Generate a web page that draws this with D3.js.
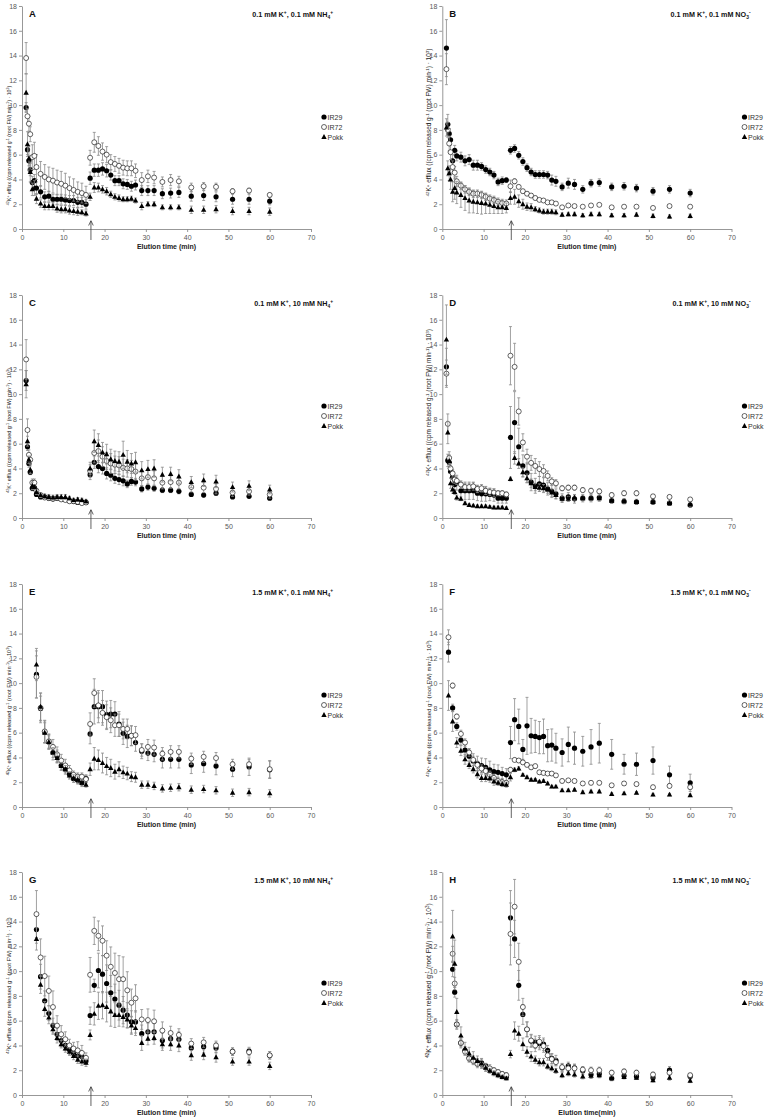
<!DOCTYPE html>
<html><head><meta charset="utf-8">
<script src="https://cdn.jsdelivr.net/npm/d3@7"></script>
<style>html,body{margin:0;padding:0;background:#fff;}svg{display:block;font-family:"Liberation Sans",Arial,sans-serif;}</style>
</head><body>
<svg id="chart" width="765" height="1118"></svg>
<script>
// ---------- time points (min) ----------
const tEarlyAD = [1,1.33,1.67,2,2.5,3,3.5,4.5,5.5,6.5,7.5,8.5,9.5,10.5,11.5,12.5,13.5,14.5,15.5];
const tEarlyEG = [3.5,4.5,5.5,6.5,7.5,8.5,9.5,10.5,11.5,12.5,13.5,14.5,15.5];
const tEarlyF  = [1.5,2.5,3.5,4.5,5.5,6.5,7.5,8.5,9.5,10.5,11.5,12.5,13.5,14.5,15.5];
const tEarlyH  = [2.5,3,3.5,4.5,5.5,6.5,7.5,8.5,9.5,10.5,11.5,12.5,13.5,14.5,15.5];
const tLate    = [16.5,17.5,18.5,19.5,20.5,21.5,22.5,23.5,24.5,25.5,26.5,27.5,29,30.5,32,34,36,38,41,44,47,51,55,60];
const arrowTime = 16.7;

const seriesNames = ["IR29","IR72","Pokk"];
const xTicks = [0,10,20,30,40,50,60,70];
const yTicks = [0,2,4,6,8,10,12,14,16,18];

// ---------- Panel A ----------
const A_IR29  = [9.8,6.4,5.5,4.8,3.75,3.9,3.3,3.0,2.6,2.65,2.4,2.4,2.4,2.35,2.3,2.3,2.15,2.15,2.0, 4.1,4.75,4.75,4.85,4.7,4.35,3.9,3.9,3.65,3.6,3.45,3.55,3.1,3.1,3.1,2.85,2.9,2.95,2.65,2.7,2.6,2.4,2.4,2.25];
const A_IR29e = [0.4,0.4,0.4,0.5,0.5,0.5,0.5,0.5,0.4,0.4,0.4,0.4,0.4,0.4,0.4,0.4,0.4,0.4,0.4, 0.5,0.5,0.5,0.5,0.5,0.4,0.4,0.4,0.4,0.4,0.4,0.4,0.4,0.4,0.4,0.4,0.4,0.4,0.4,0.4,0.4,0.4,0.4,0.3];
const A_IR72  = [13.8,9.1,8.5,7.65,5.8,5.9,5.0,4.45,4.2,4.0,3.9,3.75,3.65,3.5,3.3,3.15,3.0,2.9,2.75, 5.75,7.0,6.7,6.25,6.0,5.4,5.25,5.1,4.95,4.9,4.9,4.7,3.95,4.25,4.15,3.8,3.95,3.85,3.35,3.45,3.4,3.05,3.1,2.75];
const A_IR72e = [1.25,0.6,0.6,0.6,1.0,1.1,1.0,1.0,1.0,1.0,1.0,1.0,1.0,1.0,0.9,0.9,0.8,0.8,0.7, 0.6,0.8,0.75,0.7,0.65,0.6,0.6,0.6,0.6,0.6,0.6,0.55,0.6,0.5,0.5,0.4,0.45,0.4,0.35,0.3,0.3,0.2,0.2,0.15];
const A_Pokk  = [11.0,6.85,5.7,4.6,3.2,3.3,2.45,2.05,1.85,1.85,1.85,1.65,1.6,1.6,1.5,1.45,1.4,1.35,1.25, 2.6,3.35,3.35,3.2,3.05,2.8,2.6,2.5,2.4,2.4,2.45,2.3,1.85,2.0,2.0,1.75,1.75,1.75,1.55,1.55,1.6,1.45,1.45,1.4];
const A_Pokke = [1.5,1.0,1.0,0.8,0.5,0.6,0.4,0.3,0.3,0.3,0.3,0.3,0.3,0.3,0.3,0.3,0.3,0.2,0.2, 0.3,0.4,0.35,0.3,0.3,0.25,0.25,0.25,0.2,0.2,0.2,0.2,0.3,0.2,0.2,0.2,0.2,0.2,0.3,0.3,0.3,0.3,0.3,0.3];

// ---------- Panel B ----------
const B_IR29  = [14.6,8.45,7.7,7.2,5.5,6.35,5.9,5.8,5.5,5.6,5.15,5.15,5.05,4.8,4.6,4.35,3.8,3.9,3.95, 6.35,6.5,5.95,5.45,4.95,4.6,4.4,4.4,4.4,4.35,3.95,3.85,3.4,3.7,3.6,3.2,3.7,3.75,3.4,3.45,3.3,3.05,3.2,2.9];
const B_IR29e = [2.3,0.8,0.4,0.4,0.5,0.4,0.4,0.4,0.4,0.4,0.4,0.4,0.3,0.3,0.3,0.3,0.3,0.3,0.2, 0.3,0.3,0.3,0.3,0.3,0.3,0.3,0.3,0.3,0.3,0.4,0.4,0.3,0.4,0.4,0.3,0.3,0.3,0.3,0.3,0.3,0.3,0.3,0.3];
const B_IR72  = [12.9,8.0,6.9,6.2,5.0,4.55,3.85,3.5,3.2,3.0,2.85,2.85,2.75,2.6,2.45,2.35,2.2,2.1,2.05, 3.45,3.85,3.4,3.05,2.85,2.7,2.5,2.35,2.3,2.15,2.15,2.05,1.75,1.9,1.85,1.8,1.9,1.95,1.75,1.8,1.8,1.7,1.85,1.8];
const B_IR72e = [1.25,0.6,0.6,0.6,0.5,0.5,0.4,0.3,0.3,0.3,0.3,0.3,0.3,0.3,0.3,0.3,0.3,0.3,0.3, 0.5,0.2,0.15,0.15,0.15,0.15,0.15,0.1,0.1,0.1,0.1,0.1,0.1,0.1,0.1,0.1,0.1,0.1,0.1,0.1,0.1,0.1,0.1,0.1];
const B_Pokk  = [8.2,4.9,4.5,4.0,3.0,3.3,2.95,2.75,2.5,2.3,2.2,2.15,2.1,2.05,1.95,1.85,1.75,1.75,1.7, 2.5,2.6,2.25,2.0,1.8,1.75,1.6,1.5,1.4,1.4,1.4,1.35,1.15,1.2,1.2,1.1,1.2,1.2,1.1,1.1,1.15,1.05,1.0,1.05];
const B_Pokke = [0.7,0.6,0.6,0.8,0.8,0.9,0.9,1.0,1.0,1.0,0.9,0.9,0.9,0.8,0.7,0.6,0.5,0.5,0.4, 0.5,0.6,0.5,0.4,0.3,0.3,0.2,0.2,0.2,0.2,0.2,0.2,0.15,0.15,0.15,0.15,0.15,0.15,0.15,0.15,0.15,0.15,0.15,0.15];

// ---------- Panel C ----------
const C_IR29  = [11.1,5.75,4.4,3.7,2.4,2.45,1.9,1.7,1.7,1.6,1.55,1.6,1.55,1.5,1.4,1.35,1.25,1.3,1.25, 3.5,4.5,4.15,4.0,3.6,3.45,3.2,3.1,3.0,2.75,2.95,2.9,2.35,2.5,2.4,2.25,2.25,2.15,1.9,1.85,2.0,1.7,1.75,1.6];
const C_IR29e = [0.8,0.3,0.3,0.2,0.2,0.2,0.1,0.1,0.1,0.1,0.1,0.1,0.1,0.1,0.1,0.1,0.1,0.1,0.1, 0.4,0.5,0.5,0.45,0.45,0.45,0.4,0.4,0.4,0.3,0.3,0.3,0.25,0.25,0.25,0.2,0.2,0.2,0.15,0.15,0.15,0.1,0.1,0.1];
const C_IR72  = [12.8,7.1,5.1,4.7,2.85,2.85,2.2,1.85,1.65,1.6,1.55,1.6,1.5,1.45,1.35,1.35,1.3,1.2,1.25, 3.8,5.25,5.4,4.95,4.6,4.4,4.3,4.25,4.05,4.0,3.95,3.75,3.2,3.3,3.2,2.85,2.9,2.85,2.5,2.45,2.35,2.05,2.15,1.9];
const C_IR72e = [1.6,0.9,0.4,0.4,0.3,0.3,0.2,0.1,0.1,0.1,0.1,0.1,0.1,0.1,0.1,0.1,0.1,0.1,0.1, 0.5,0.8,0.9,0.8,0.7,0.8,0.7,0.7,0.7,0.7,0.7,0.7,0.6,0.6,0.6,0.5,0.5,0.5,0.4,0.4,0.4,0.3,0.3,0.3];
const C_Pokk  = [10.8,6.2,4.7,3.9,2.6,2.5,2.1,1.85,1.75,1.7,1.65,1.7,1.7,1.7,1.6,1.45,1.5,1.45,1.35, 4.0,6.2,5.9,5.3,5.15,4.75,4.6,4.55,5.1,4.55,4.4,4.5,3.85,3.95,4.0,3.5,3.55,3.35,2.9,3.05,2.95,2.5,2.6,2.3];
const C_Pokke = [1.1,0.4,0.3,0.3,0.3,0.2,0.2,0.2,0.2,0.2,0.2,0.2,0.2,0.2,0.15,0.15,0.15,0.15,0.15, 0.5,0.9,0.9,0.8,0.8,0.8,0.8,0.8,1.1,0.9,0.8,0.8,0.7,0.7,0.7,0.6,0.55,0.55,0.45,0.5,0.5,0.4,0.4,0.35];

// ---------- Panel D ----------
const D_IR29  = [12.2,4.65,4.5,3.75,3.3,2.7,2.85,2.2,2.2,2.2,2.2,2.0,1.95,1.95,1.9,1.85,1.6,1.6,1.6, 6.5,7.7,5.75,4.2,3.65,2.9,2.6,2.75,2.65,2.35,2.15,1.95,1.6,1.7,1.55,1.6,1.6,1.65,1.4,1.35,1.3,1.3,1.2,1.05];
const D_IR29e = [1.5,0.5,0.5,0.5,0.5,0.5,0.6,0.7,0.7,0.7,0.7,0.6,0.6,0.6,0.5,0.5,0.4,0.4,0.4, 2.5,2.5,1.5,0.9,0.8,0.7,0.6,0.6,0.6,0.5,0.5,0.4,0.35,0.35,0.35,0.3,0.3,0.3,0.2,0.2,0.2,0.2,0.15,0.15];
const D_IR72  = [11.65,7.6,4.85,4.0,3.6,3.1,3.0,2.7,2.5,2.5,2.55,2.35,2.4,2.2,2.1,2.05,2.0,2.0,1.9, 13.1,12.2,8.6,6.1,4.95,4.45,4.2,3.95,3.8,3.4,2.95,2.8,2.4,2.45,2.45,2.25,2.2,2.15,1.85,2.0,2.0,1.75,1.7,1.5];
const D_IR72e = [1.1,0.8,0.5,0.4,0.3,0.3,0.3,0.3,0.3,0.3,0.3,0.3,0.3,0.3,0.3,0.3,0.2,0.2,0.2, 2.35,1.9,1.1,0.7,0.6,0.6,0.6,0.6,0.5,0.4,0.3,0.3,0.2,0.2,0.2,0.2,0.2,0.2,0.2,0.2,0.2,0.15,0.15,0.1];
const D_Pokk  = [14.4,6.9,4.6,2.8,2.3,2.1,1.65,1.55,1.2,1.05,1.0,0.95,0.95,0.95,0.9,0.85,0.85,0.85,0.8, 3.15,4.85,4.4,3.7,3.2,2.8,2.5,2.45,2.4,2.3,2.05,1.85,1.55,1.55,1.65,1.6,1.6,1.6,1.4,1.35,1.3,1.3,1.2,1.1];
const D_Pokke = [2.8,0.9,0.5,0.4,0.3,0.2,0.2,0.15,0.1,0.1,0.1,0.1,0.1,0.1,0.1,0.1,0.1,0.1,0.1, 0.15,0.5,0.4,0.35,0.35,0.35,0.3,0.3,0.3,0.3,0.3,0.3,0.2,0.2,0.2,0.2,0.2,0.2,0.2,0.2,0.2,0.15,0.15,0.15];

// ---------- Panel E ----------
const E_IR29  = [10.7,7.95,6.05,5.25,4.4,4.1,3.35,3.05,2.65,2.3,2.15,1.95,2.3, 5.9,8.1,8.1,8.1,7.45,7.5,7.5,6.7,5.95,5.7,5.75,5.2,4.5,4.35,4.25,3.85,3.85,3.85,3.4,3.5,3.3,3.05,3.25,3.0];
const E_IR29e = [1.9,1.0,0.9,0.6,0.6,0.5,0.4,0.4,0.3,0.3,0.3,0.3,0.3, 0.8,1.4,1.3,1.3,1.1,1.1,1.0,1.0,0.9,0.9,0.8,0.7,0.6,0.6,0.6,0.7,0.7,0.7,0.7,0.7,0.7,0.6,0.7,0.7];
const E_IR72  = [10.5,8.0,6.1,5.3,4.85,4.25,3.75,3.35,2.95,2.6,2.45,2.45,2.25, 6.7,9.2,8.2,7.6,7.25,7.0,6.6,6.6,6.3,6.3,5.75,5.8,4.6,4.85,4.8,4.3,4.45,4.45,3.9,4.05,3.95,3.45,3.45,3.05];
const E_IR72e = [1.7,1.2,0.9,0.6,0.6,0.6,0.5,0.5,0.4,0.3,0.3,0.3,0.3, 0.9,1.15,1.0,1.0,1.0,1.0,0.9,0.9,0.8,0.8,0.8,0.7,0.5,0.6,0.6,0.5,0.5,0.5,0.45,0.45,0.45,0.4,0.4,0.7];
const E_Pokk  = [11.5,8.1,6.0,5.25,4.4,3.95,3.3,3.05,2.55,2.3,2.2,1.95,1.8, 3.05,3.9,3.8,3.55,3.3,3.15,2.85,3.05,2.8,2.7,2.45,2.4,1.8,1.8,1.7,1.5,1.55,1.6,1.4,1.45,1.35,1.15,1.2,1.1];
const E_Pokke = [1.3,1.1,0.8,0.5,0.4,0.4,0.3,0.3,0.3,0.3,0.3,0.2,0.2, 0.5,0.9,0.8,0.8,0.7,0.7,0.6,0.6,0.5,0.5,0.4,0.4,0.3,0.3,0.3,0.3,0.3,0.3,0.3,0.3,0.3,0.3,0.3,0.3];

// ---------- Panel F ----------
const F_IR29  = [12.5,8.0,6.5,5.4,4.6,4.1,3.7,3.5,3.35,3.2,3.0,2.85,2.8,2.7,2.6, 5.2,7.05,6.5,4.65,6.55,5.75,5.7,5.6,5.7,4.95,5.0,4.75,4.4,5.05,4.75,4.5,4.85,5.15,4.25,3.45,3.45,3.75,2.6,1.95];
const F_IR29e = [0.8,0.3,0.3,0.4,0.5,0.6,0.6,0.6,0.6,0.7,0.7,0.6,0.6,0.5,0.5, 1.3,1.7,1.4,0.8,2.3,1.4,1.3,1.3,1.4,1.3,1.3,1.2,1.1,1.4,1.3,1.2,1.4,1.6,1.2,0.8,0.9,1.1,0.7,0.7];
const F_IR72  = [13.7,9.8,7.3,5.9,5.2,4.4,3.8,3.4,3.1,2.9,2.6,2.35,2.1,2.0,1.95, 3.0,3.8,3.75,3.6,3.4,3.2,3.3,2.8,2.75,2.7,2.7,2.55,2.1,2.15,2.1,1.9,1.95,1.95,1.75,1.9,1.85,1.6,1.7,1.6];
const F_IR72e = [0.6,0.2,0.2,0.3,0.3,0.3,0.3,0.3,0.3,0.3,0.3,0.3,0.3,0.3,0.2, 0.2,0.15,0.15,0.15,0.15,0.15,0.15,0.15,0.15,0.15,0.15,0.15,0.15,0.15,0.15,0.15,0.15,0.15,0.15,0.15,0.15,0.15,0.15,0.2];
const F_Pokk  = [9.0,6.9,5.2,4.55,3.85,3.4,3.05,2.65,2.35,2.35,2.3,2.05,1.95,1.85,1.8, 2.4,3.0,3.1,2.6,2.4,2.2,2.2,2.05,2.1,1.9,1.65,1.65,1.35,1.35,1.4,1.2,1.25,1.25,1.05,1.1,1.15,1.0,1.0,0.95];
const F_Pokke = [1.2,0.8,0.4,0.4,0.4,0.3,0.3,0.3,0.3,0.3,0.3,0.3,0.2,0.2,0.2, 0.3,0.15,0.15,0.1,0.1,0.1,0.1,0.1,0.1,0.1,0.1,0.1,0.1,0.1,0.1,0.1,0.1,0.1,0.1,0.1,0.1,0.1,0.1,0.1];

// ---------- Panel G ----------
const G_IR29  = [13.35,9.55,7.6,6.6,5.6,4.9,4.4,4.0,3.65,3.35,3.15,3.1,2.75, 6.4,8.85,10.05,9.75,9.0,8.25,7.75,7.25,6.85,6.45,5.9,5.9,4.95,5.1,5.1,4.4,4.55,4.5,3.8,3.9,3.8,3.5,3.55,3.2];
const G_IR29e = [1.1,1.0,0.8,0.6,0.6,0.5,0.5,0.4,0.4,0.3,0.3,0.3,0.3, 0.7,0.5,1.4,1.5,1.5,1.4,1.2,1.2,1.1,1.0,0.9,0.9,0.7,0.7,0.7,0.6,0.6,0.6,0.5,0.5,0.4,0.3,0.3,0.3];
const G_IR72  = [14.6,11.1,9.6,8.4,7.1,5.6,4.9,4.5,4.0,3.75,3.6,3.4,3.0, 9.7,13.25,12.85,12.45,11.25,10.35,9.85,9.35,9.35,8.45,7.45,7.8,6.1,6.05,5.95,5.2,5.0,4.85,4.15,4.25,4.0,3.5,3.45,3.2];
const G_IR72e = [1.9,1.5,1.6,1.2,1.3,0.8,0.7,0.6,0.5,0.5,0.7,0.6,0.4, 1.4,1.1,1.2,1.2,1.2,1.6,1.6,1.9,1.8,1.5,1.1,1.1,0.8,0.9,0.9,0.7,0.55,0.5,0.4,0.4,0.35,0.3,0.3,0.3];
const G_Pokk  = [12.6,8.9,6.95,6.25,5.3,4.6,4.1,3.75,3.5,3.15,2.85,2.7,2.6, 4.85,6.55,7.2,7.25,7.1,6.75,6.45,6.45,6.3,6.1,5.6,5.4,4.2,4.55,4.6,4.1,4.1,4.0,3.2,3.25,3.05,2.7,2.7,2.35];
const G_Pokke = [0.9,0.7,0.6,0.5,0.4,0.4,0.3,0.3,0.3,0.3,0.3,0.3,0.3, 0.4,0.9,1.1,1.1,1.2,1.2,1.0,0.9,0.8,0.7,0.7,0.6,0.6,0.5,0.5,0.5,0.5,0.5,0.4,0.4,0.4,0.3,0.3,0.3];

// ---------- Panel H ----------
const H_IR29  = [10.15,8.3,5.7,4.2,3.6,3.0,2.85,2.65,2.6,2.35,2.05,1.9,1.7,1.55,1.45, 14.3,12.6,8.85,6.5,5.3,4.35,4.25,4.15,4.1,3.6,2.95,2.8,2.2,2.35,2.2,1.95,1.65,1.7,1.35,1.55,1.5,1.4,2.0,1.5];
const H_IR29e = [0.6,0.4,0.3,0.3,0.3,0.3,0.3,0.3,0.3,0.2,0.2,0.2,0.2,0.15,0.15, 2.2,1.5,1.2,0.8,0.6,0.5,0.5,0.5,0.5,0.4,0.4,0.4,0.3,0.3,0.3,0.3,0.3,0.3,0.2,0.2,0.2,0.2,0.3,0.2];
const H_IR72  = [11.4,9.0,5.7,4.2,3.5,2.95,2.75,2.5,2.5,2.25,2.15,2.0,1.85,1.7,1.6, 13.0,15.2,10.75,7.1,5.3,4.4,4.0,4.3,3.95,3.2,2.9,2.65,2.25,2.15,2.15,2.05,2.0,2.0,1.8,1.9,1.8,1.65,1.8,1.6];
const H_IR72e = [0.6,0.5,0.4,0.4,0.3,0.3,0.3,0.3,0.3,0.3,0.3,0.2,0.2,0.2,0.2, 2.5,2.2,1.5,0.7,0.6,0.5,0.5,0.5,0.5,0.4,0.4,0.3,0.3,0.3,0.3,0.25,0.25,0.25,0.2,0.2,0.2,0.2,0.2,0.15];
const H_Pokk  = [12.8,10.6,6.7,4.8,3.75,3.35,3.0,2.75,2.55,2.2,1.95,1.75,1.6,1.45,1.35, 3.3,5.2,4.95,4.1,3.5,3.1,2.85,2.65,2.65,2.3,2.15,1.95,1.6,1.75,1.65,1.5,1.55,1.6,1.35,1.45,1.4,1.2,1.4,1.15];
const H_Pokke = [2.1,1.9,1.1,0.7,0.5,0.5,0.5,0.4,0.4,0.3,0.2,0.2,0.2,0.15,0.15, 0.3,0.7,0.6,0.5,0.4,0.4,0.3,0.3,0.3,0.2,0.2,0.2,0.2,0.2,0.2,0.2,0.2,0.2,0.15,0.15,0.15,0.15,0.2,0.15];

// ---------- text labels ----------
const panelLetters = ["A","B","C","D","E","F","G","H"];
const panelTitles = [
  [["0.1 mM K",""],["+","sup"],[", 0.1 mM NH",""],["4","sub"],["+","sup"]],
  [["0.1 mM K",""],["+","sup"],[", 0.1 mM NO",""],["3","sub"],["-","sup"]],
  [["0.1 mM K",""],["+","sup"],[", 10 mM NH",""],["4","sub"],["+","sup"]],
  [["0.1 mM K",""],["+","sup"],[", 10 mM NO",""],["3","sub"],["-","sup"]],
  [["1.5 mM K",""],["+","sup"],[", 0.1 mM NH",""],["4","sub"],["+","sup"]],
  [["1.5 mM K",""],["+","sup"],[", 0.1 mM NO",""],["3","sub"],["-","sup"]],
  [["1.5 mM K",""],["+","sup"],[", 10 mM NH",""],["4","sub"],["+","sup"]],
  [["1.5 mM K",""],["+","sup"],[", 10 mM NO",""],["3","sub"],["-","sup"]]
];
const xLabels = ["Elution time (min)","Elution time (min)","Elution time (min)","Elution time (min)",
                 "Elution time (min)","Elution time (min)","Elution time (min)","Elution time(min)"];
const yLabel = [["42","sup"],["K",""],["+","sup"],[" efflux ((cpm released g",""],["-1","sup"],[" (root FW) min",""],["-1","sup"],[") · 10",""],["3","sup"],[")",""]];

// ---------- build panel table from the arrays ----------
const panelData = [
  {t: tEarlyAD, s:[[A_IR29,A_IR29e],[A_IR72,A_IR72e],[A_Pokk,A_Pokke]]},
  {t: tEarlyAD, s:[[B_IR29,B_IR29e],[B_IR72,B_IR72e],[B_Pokk,B_Pokke]]},
  {t: tEarlyAD, s:[[C_IR29,C_IR29e],[C_IR72,C_IR72e],[C_Pokk,C_Pokke]]},
  {t: tEarlyAD, s:[[D_IR29,D_IR29e],[D_IR72,D_IR72e],[D_Pokk,D_Pokke]]},
  {t: tEarlyEG, s:[[E_IR29,E_IR29e],[E_IR72,E_IR72e],[E_Pokk,E_Pokke]]},
  {t: tEarlyF,  s:[[F_IR29,F_IR29e],[F_IR72,F_IR72e],[F_Pokk,F_Pokke]]},
  {t: tEarlyEG, s:[[G_IR29,G_IR29e],[G_IR72,G_IR72e],[G_Pokk,G_Pokke]]},
  {t: tEarlyH,  s:[[H_IR29,H_IR29e],[H_IR72,H_IR72e],[H_Pokk,H_Pokke]]}
];

// ---------- layout ----------
const colX = [[22, 311], [442.3, 731.5]];
const rowTop = [6, 295, 584, 872];
const plotH = 223;
const yLabLen = [120,148,125,147,130,137,137,155];
const yLabOff = [28,5,24,-4,15,13,2,-3];

const svg = d3.select("#chart");
const axisCol = "#8c8c8c", tickTxt = "#595959", errCol = "#8a8a8a";

function richText(sel, segs, baseSize){
  let off = 0;
  segs.forEach(([txt, kind]) => {
    const ts = sel.append("tspan").text(txt);
    let target = 0, fs = baseSize;
    if (kind === "sup"){ target = -baseSize*0.38; fs = baseSize*0.68; }
    else if (kind === "sub"){ target = baseSize*0.22; fs = baseSize*0.68; }
    ts.attr("font-size", fs).attr("dy", (target - off).toFixed(2));
    off = target;
  });
}

panelData.forEach((pd, pi) => {
  const col = pi % 2, row = Math.floor(pi/2);
  const [x0, x1] = colX[col];
  const top = rowTop[row], bot = top + plotH;
  const x = d3.scaleLinear().domain([0,70]).range([x0, x1]);
  const y = d3.scaleLinear().domain([0,18]).range([bot, top]);
  const g = svg.append("g");

  // axes
  const xa = g.append("g").attr("transform", `translate(0,${bot})`)
    .call(d3.axisBottom(x).tickValues(xTicks).tickSize(3).tickSizeOuter(0).tickPadding(3));
  const ya = g.append("g").attr("transform", `translate(${x0},0)`)
    .call(d3.axisLeft(y).tickValues(yTicks).tickSize(3).tickSizeOuter(0).tickPadding(2));
  [xa, ya].forEach(a => {
    a.select(".domain").attr("stroke", axisCol).attr("stroke-width", 0.9);
    a.selectAll(".tick line").attr("stroke", axisCol).attr("stroke-width", 0.9);
    a.selectAll(".tick text").attr("fill", tickTxt).attr("font-size", 7)
      .attr("font-family", "Liberation Sans, Arial, sans-serif");
  });

  // series
  const times = pd.t.concat(tLate);
  pd.s.forEach(([vals, errs], si) => {
    const pts = vals.map((v,i) => ({t: times[i], v, e: errs[i] || 0})).filter(d => d.t !== undefined);
    const eg = g.append("g").attr("stroke", errCol).attr("stroke-width", 0.8);
    pts.forEach(d => {
      const xx = x(d.t), ylo = y(Math.max(0, d.v - d.e)), yhi = y(d.v + d.e);
      eg.append("line").attr("x1", xx).attr("x2", xx).attr("y1", ylo).attr("y2", yhi);
      eg.append("line").attr("x1", xx-1.5).attr("x2", xx+1.5).attr("y1", yhi).attr("y2", yhi);
      eg.append("line").attr("x1", xx-1.5).attr("x2", xx+1.5).attr("y1", ylo).attr("y2", ylo);
    });
    const mg = g.append("g");
    pts.forEach(d => drawMarker(mg, si, x(d.t), y(d.v)));
  });

  // arrow (start of second phase)
  const ax = x(arrowTime);
  const ag = g.append("g").attr("stroke", "#3a3a3a").attr("stroke-width", 0.8).attr("fill", "none");
  ag.append("line").attr("x1", ax).attr("x2", ax).attr("y1", bot + 11).attr("y2", bot - 8);
  ag.append("path").attr("d", `M${ax-2.3},${bot-3.5} L${ax},${bot-8.3} L${ax+2.3},${bot-3.5}`);

  // panel letter and title
  g.append("text").attr("x", x0 + 7).attr("y", top + 11).attr("font-size", 9.5)
    .attr("font-weight", "bold").attr("fill", "#111").text(panelLetters[pi]);
  const tt = g.append("text").attr("x", x1 + (col === 0 ? 22 : 19)).attr("y", top + 11)
    .attr("text-anchor", "end").attr("font-size", 7.2).attr("font-weight", "bold").attr("fill", "#111");
  richText(tt, panelTitles[pi], 7.2);

  // x label
  g.append("text").attr("x", (x0 + x1)/2).attr("y", bot + 20).attr("text-anchor", "middle")
    .attr("font-size", 7).attr("font-weight", "bold").attr("fill", "#222").text(xLabels[pi]);

  // y label (rotated), scaled to the observed length
  const cy = (top + bot)/2 + yLabOff[pi];
  const yl = g.append("text").attr("text-anchor", "middle").attr("fill", "#222")
    .attr("font-size", 7).attr("transform", `translate(${x0 - 11},${cy}) rotate(-90)`);
  richText(yl, yLabel, 7);
  const w = yl.node().getBBox().width;
  const fs = 7 * yLabLen[pi] / w;
  yl.selectAll("*").remove();
  yl.attr("font-size", fs);
  richText(yl, yLabel, fs);

  // legend
  seriesNames.forEach((nm, si) => {
    const ly = top + 111 + si*10;
    drawMarker(g, si, x1 + 13, ly);
    g.append("text").attr("x", x1 + 16.5).attr("y", ly + 2.5).attr("font-size", 7)
      .attr("fill", "#333").text(nm);
  });
});

function drawMarker(sel, si, cx, cy){
  if (si === 0){
    sel.append("circle").attr("cx", cx).attr("cy", cy).attr("r", 2.6).attr("fill", "#000");
  } else if (si === 1){
    sel.append("circle").attr("cx", cx).attr("cy", cy).attr("r", 2.5)
      .attr("fill", "#fff").attr("stroke", "#000").attr("stroke-width", 0.6);
  } else {
    sel.append("path").attr("d", `M${cx},${cy-2.9} L${cx+2.7},${cy+2} L${cx-2.7},${cy+2} Z`).attr("fill", "#000");
  }
}
</script>
</body></html>
